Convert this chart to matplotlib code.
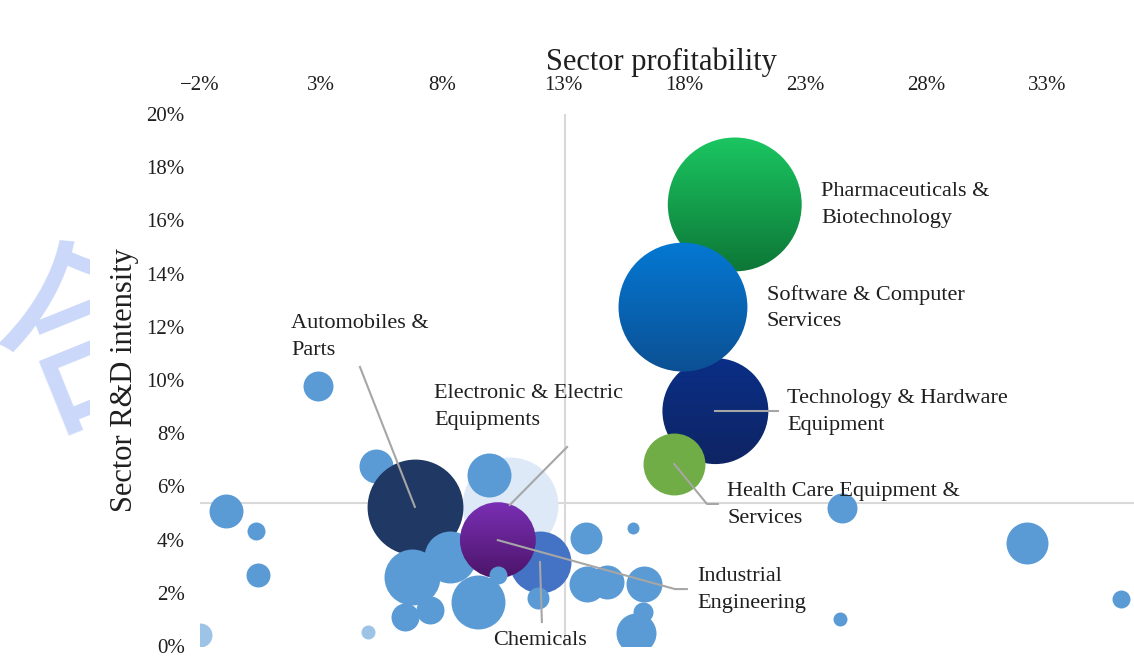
import numpy as np
import matplotlib
matplotlib.use("Agg")
import matplotlib.pyplot as plt
from matplotlib.patches import Circle, Rectangle
from matplotlib.transforms import IdentityTransform
from matplotlib.colors import to_rgb

plt.rcParams['font.family'] = ['Liberation Serif', 'DejaVu Serif']

# labelled sectors (profitability %, R&D intensity %, bubble size)
sectors = ['Pharmaceuticals &\nBiotechnology', 'Software & Computer\nServices',
           'Technology & Hardware\nEquipment', 'Health Care Equipment &\nServices',
           'Industrial\nEngineering', 'Chemicals',
           'Electronic & Electric\nEquipments', 'Automobiles &\nParts']
sec_profit = [20.1, 17.96, 19.3, 17.6, 10.31, 12.05, 10.8, 6.88]
sec_rd = [16.6, 12.74, 8.83, 6.84, 3.98, 3.16, 5.3, 5.23]
sec_size = [44.9, 41.6, 28.1, 9.6, 14.4, 9.6, 23.0, 23.0]

# unlabelled sectors
other_profit = [2.88, 5.27, -0.93, 0.31, 0.40, -2.0, 4.94, 9.94, 6.76, 8.33, 6.47, 7.5, 9.49,
                10.31, 11.97, 13.95, 13.99, 14.82, 16.35, 16.31, 16.02, 15.89, 24.53, 24.45,
                32.17, 36.06]
other_rd = [9.77, 6.77, 5.08, 4.32, 2.67, 0.41, 0.53, 6.43, 2.59, 3.35, 1.09, 1.35, 1.65,
            2.67, 1.80, 4.06, 2.33, 2.41, 2.33, 1.28, 0.49, 4.44, 5.19, 1.02, 3.87, 1.77]
other_size = [2.25, 2.89, 2.89, 0.81, 1.44, 1.44, 0.49, 4.84, 7.84, 6.76, 1.96, 1.96, 7.29,
              0.81, 1.21, 2.56, 3.24, 2.89, 3.24, 1.0, 4.0, 0.36, 2.25, 0.49, 4.41, 0.81]

xticks = [-2, 3, 8, 13, 18, 23, 28, 33]
yticks = [0, 2, 4, 6, 8, 10, 12, 14, 16, 18, 20]
cross_x, cross_y = 13.08, 5.38

# styling of the labelled bubbles: (fill or (top, bottom) gradient, zorder)
sec_style = [(('#1bc862', '#0d7536'), 3), (('#0479d4', '#0c4f92'), 4),
             (('#0a2f88', '#0f2462'), 3.5), ('#70ad47', 5),
             (('#7c30b8', '#4a1466'), 5), ('#4472c4', 1.5),
             ('#dde9f6', 1), ('#203864', 3)]
# label anchor (x, y) and leader line points
label_pos = [(23.66, 16.58), (21.43, 12.71), (22.26, 8.80), (19.78, 5.30),
             (18.54, 2.11), (10.11, 0.19), (7.67, 8.98), (1.76, 11.62)]
leaders = {2: [(21.88, 8.83)], 3: [(18.95, 5.34), (19.40, 5.34)],
           4: [(17.63, 2.14), (18.12, 2.14)], 5: [(12.13, 0.90)],
           6: [(13.17, 7.48)], 7: [(4.61, 10.49)]}

BUBBLE_SCALE = 207

fig = plt.figure(figsize=(11.34, 6.59), dpi=100)
ax = fig.add_axes([200 / 1134, 13 / 659, 934 / 1134, 532 / 659])
ax.set_xlim(-2, 36.6)
ax.set_ylim(0, 20)

# scan watermark behind the chart box
fig.text(98 / 1134, 1 - 342 / 659, '合', fontsize=145, rotation=22, color='#cbd8fa',
         family=['Noto Sans CJK SC'], ha='center', va='center', zorder=-2)
fig.add_artist(Rectangle((90 / 1134, 0), 1, 630 / 659, transform=fig.transFigure,
                         facecolor='white', edgecolor='none', zorder=-1))

ax.axhline(cross_y, color='#d9d9d9', lw=1.5, zorder=0)
ax.axvline(cross_x, color='#d9d9d9', lw=1.5, zorder=0)


def gradient_bubble(x, y, s, top, bottom, z):
    r = np.sqrt(s) / 2 * fig.dpi / 72
    cx, cy = ax.transData.transform((x, y))
    pad = r + 3
    (x0, y0), (x1, y1) = ax.transData.inverted().transform([(cx - pad, cy - pad),
                                                            (cx + pad, cy + pad)])
    ramp = np.linspace(0, 1, 256)[:, None, None]
    img = (1 - ramp) * np.array(to_rgb(top)) + ramp * np.array(to_rgb(bottom))
    img = np.repeat(img, 4, axis=1)
    im = ax.imshow(img, extent=(x0, x1, y0, y1), aspect='auto', zorder=z,
                   interpolation='bilinear')
    im.set_clip_path(Circle((cx, cy), r, transform=IdentityTransform()))


for i, name in enumerate(sectors):
    fill, z = sec_style[i]
    s = sec_size[i] * BUBBLE_SCALE
    if isinstance(fill, tuple):
        gradient_bubble(sec_profit[i], sec_rd[i], s, fill[0], fill[1], z)
    else:
        ax.scatter([sec_profit[i]], [sec_rd[i]], s=s, color=fill, linewidths=0, zorder=z)
    ax.text(label_pos[i][0], label_pos[i][1], name, fontsize=16, ha='left', va='center',
            linespacing=1.55, color='#1f1f1f', zorder=8)
    if i in leaders:
        pts = [(sec_profit[i], sec_rd[i])] + leaders[i]
        ax.plot([p[0] for p in pts], [p[1] for p in pts], color='#a6a6a6', lw=1.5, zorder=7)

# others: light ones and layering tweaks
for j in range(len(other_profit)):
    color = '#9dc3e6' if j in (5, 6) else '#5b9bd5'
    z = 2 if j == 1 else (6 if j in (12, 13, 14) else 4)
    ax.scatter([other_profit[j]], [other_rd[j]], s=other_size[j] * BUBBLE_SCALE,
               color=color, linewidths=0, zorder=z)

ax.set_xlim(-2, 36.6)
ax.set_ylim(0, 20)
ax.xaxis.tick_top()
ax.set_xticks(xticks)
ax.set_xticklabels([f'{v}%'.replace('-', '\u2212') for v in xticks])
ax.set_yticks(yticks)
ax.set_yticklabels([f'{v}%' for v in yticks])
ax.tick_params(axis='x', length=0, pad=14, labelsize=15, colors='#1f1f1f')
ax.tick_params(axis='y', length=0, pad=11, labelsize=15, colors='#1f1f1f')
for sp in ax.spines.values():
    sp.set_visible(False)

ax.xaxis.set_label_position('top')
ax.set_xlabel('Sector profitability', fontsize=22, color='#1f1f1f')
ax.xaxis.set_label_coords((661 - 200) / 934, (646 - 70) / 532)
ax.set_ylabel('Sector R&D intensity', fontsize=22, color='#1f1f1f')
ax.yaxis.set_label_coords((139 - 200) / 934, 0.5)

fig.savefig('out.png', dpi=100)
